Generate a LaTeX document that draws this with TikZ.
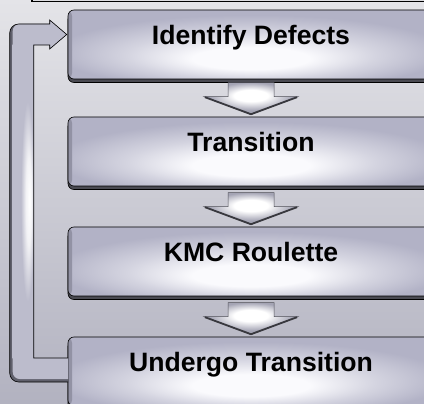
\documentclass[tikz,border=0pt]{standalone}
\usepackage{fontspec}
\setmainfont{Liberation Sans}
\usetikzlibrary{calc,shadows}

\definecolor{bgtop}{HTML}{E4E4E8}
\definecolor{bgbot}{HTML}{B2B2C0}
\definecolor{bartop}{HTML}{DCDCE0}
\definecolor{boxedge}{HTML}{B2B2C6}
\definecolor{boxmid}{HTML}{D4D4E0}
\definecolor{boxhi}{HTML}{FAFAFD}
\definecolor{boxdark}{HTML}{4A4A52}
\definecolor{bevel}{HTML}{9292A4}
\definecolor{arredge}{HTML}{A4A4B4}
\definecolor{arrline}{HTML}{505058}
\definecolor{loopbase}{HTML}{BCBCCC}
\definecolor{loopdark}{HTML}{60606C}

% soft glow of the stage boxes, a little below their middle
\pgfdeclareradialshading{boxglow}{\pgfpoint{0bp}{-12bp}}{%
  color(0bp)=(boxhi); color(8bp)=(boxhi); color(17bp)=(boxmid);
  color(27bp)=(boxedge); color(50bp)=(boxedge)}
% glow of the down arrows, brightest near the head
\pgfdeclareradialshading{arrowglow}{\pgfpoint{0bp}{6bp}}{%
  color(0bp)=(white); color(9bp)=(white); color(22bp)=(arredge);
  color(50bp)=(arredge)}
% highlight running along the return bar
\pgfdeclareradialshading{loopglow}{\pgfpoint{15bp}{0bp}}{%
  color(0bp)=(white); color(7bp)=(white!80!loopbase);
  color(16bp)=(loopbase); color(50bp)=(loopbase)}

\tikzset{
  stagebox/.style={rectangle, rounded corners=6pt,
    minimum width=366pt, minimum height=69pt, inner sep=0pt,
    text height=19pt, text depth=19pt,
    draw=black, line width=0.6pt, shading=boxglow,
    font=\fontsize{26.6}{30}\selectfont\bfseries,
    drop shadow={shadow xshift=0pt, shadow yshift=-3.5pt, opacity=1,
      fill=boxdark, draw=black, line width=0.6pt},
    path picture={\shade[left color=bevel, right color=boxedge]
      (path picture bounding box.north west) rectangle
      ([xshift=4pt]path picture bounding box.south west);}},
  arrowbody/.style={shading=arrowglow, draw=arrline, line width=0.5pt},
  arrowlip/.style={draw=arrline!70!black, line width=1.8pt},
}

\newcommand\flowarrow[1]{%
  \path[arrowbody] ($(#1.north)+(-23,-34)$) -- ($(#1.north)+(23,-34)$)
    -- ($(#1.north)+(23,-20)$) -- ($(#1.north)+(47,-20)$)
    -- ($(#1.north)+(0,-2)$) -- ($(#1.north)+(-47,-20)$)
    -- ($(#1.north)+(-23,-20)$) -- cycle;
  \draw[arrowlip] ($(#1.north)+(46,-19.5)$) -- ($(#1.north)+(0,-2.5)$)
    -- ($(#1.north)+(-46,-19.5)$);}

\begin{document}
\begin{tikzpicture}[x=1pt, y=-1pt]
\useasboundingbox (0,0) rectangle (424,404);
% backdrop and the bar along the top edge
\shade[top color=bgtop, bottom color=bgbot] (0,0) rectangle (424,404);
\fill[bartop] (32,-6) rectangle (440,1.5);
\draw[black, line width=1.2pt] (32,-6) -- (32,1.5) -- (440,1.5);

% the four stages
\node[stagebox] (b1) at (251,44.5)  {Identify Defects};
\node[stagebox] (b2) at (251,151.5) {Transition};
\node[stagebox] (b3) at (251,261.5) {KMC Roulette};
\node[stagebox] (b4) at (251,371.5) {Undergo Transition};

% arrows from each stage to the next
\flowarrow{b2}
\flowarrow{b3}
\flowarrow{b4}

% return loop from the last stage back to the first
\coordinate (lpEnd)   at ($(b4.west)+(0.3,10.5)$);
\coordinate (lpEndIn) at ($(b4.west)+(0.3,-13.5)$);
\coordinate (lpOutB)  at ($(lpEnd)+(-58.3,0)$);
\coordinate (lpArm)   at ($(b1.west)+(-18,-20.5)$);
\coordinate (lpOutT)  at (lpOutB |- lpArm);
\coordinate (lpHdT)   at ($(b1.west)+(-18,-24.5)$);
\coordinate (lpTip)   at ($(b1.west)+(-1,-10)$);
\coordinate (lpHdB)   at ($(b1.west)+(-18,4.5)$);
\coordinate (lpArmIn) at ($(b1.west)+(-18,0.5)$);
\coordinate (lpInT)   at ($(b1.west)+(-34,0.5)$);
\coordinate (lpInB)   at (lpInT |- lpEndIn);
\coordinate (lpBvB)   at ($(lpEnd)+(-58.3+3,-3)$);
\coordinate (lpBvE)   at ($(lpEnd)+(0,-3)$);
\coordinate (lpBvT)   at (lpBvB |- lpArm);

\fill[loopdark] (lpEnd) [rounded corners=9pt] -- (lpOutB) -- (lpOutT)
  [sharp corners] -- (lpArm) -- (lpHdT) -- (lpTip) -- (lpHdB) -- (lpArmIn)
  -- (lpInT) -- (lpInB) -- (lpEndIn) -- cycle;
\fill[loopbase] (lpBvE) [rounded corners=7pt] -- (lpBvB) -- (lpBvT)
  [sharp corners] -- (lpArm) -- (lpHdT) -- (lpTip) -- (lpHdB) -- (lpArmIn)
  -- (lpInT) -- (lpInB) -- (lpEndIn) -- cycle;
\begin{scope}
  \clip (lpBvB) rectangle (lpInT);
  \shade[shading=loopglow] (lpBvB |- lpInT) rectangle (lpInB);
\end{scope}
\draw[black, line width=0.6pt] (lpEnd) [rounded corners=9pt] -- (lpOutB)
  -- (lpOutT) [sharp corners] -- (lpArm) -- (lpHdT) -- (lpTip) -- (lpHdB)
  -- (lpArmIn) -- (lpInT) -- (lpInB) -- (lpEndIn);
\end{tikzpicture}
\end{document}
